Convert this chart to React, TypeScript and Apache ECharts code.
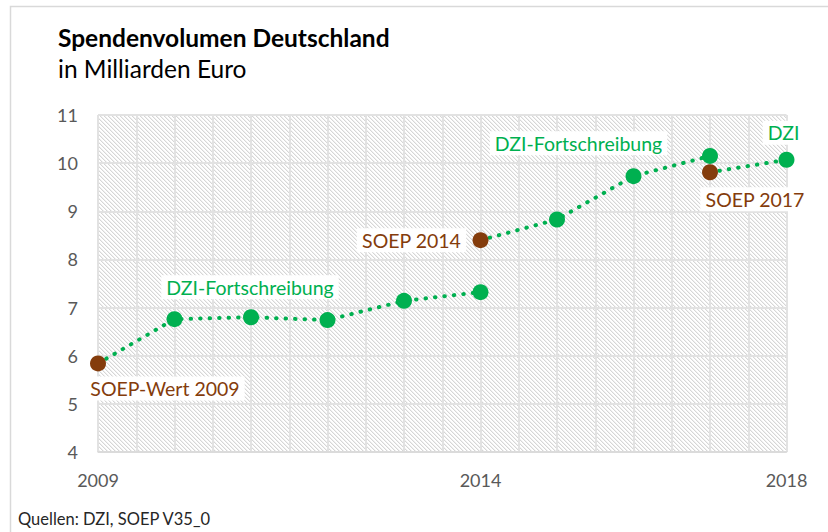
import React, { useEffect, useRef } from "react";
import * as echarts from "echarts";

// ---- data ----
const years1 = [2009, 2010, 2011, 2012, 2013, 2014];
const values1 = [5.84, 6.76, 6.8, 6.74, 7.14, 7.32];
const years2 = [2014, 2015, 2016, 2017];
const values2 = [8.4, 8.83, 9.73, 10.15];
const years3 = [2017, 2018];
const values3 = [9.81, 10.07];
const xTickLabels = [2009, 2014, 2018];
const yTicks = [4, 5, 6, 7, 8, 9, 10, 11];

const GREEN = "#00b050";
const BROWN = "#843c0c";
const FONT = "Lato, 'Open Sans', sans-serif";

function hatchCanvas(): HTMLCanvasElement {
  const c = document.createElement("canvas");
  c.width = 4;
  c.height = 4;
  const ctx = c.getContext("2d")!;
  ctx.fillStyle = "#ffffff";
  ctx.fillRect(0, 0, 4, 4);
  for (let y = 0; y < 4; y++) {
    for (let x = 0; x < 4; x++) {
      const d = (((x - y) % 4) + 4) % 4;
      if (d === 0) {
        ctx.fillStyle = "#d6d6d6";
        ctx.fillRect(x, y, 1, 1);
      } else if (d === 1) {
        ctx.fillStyle = "#f0f0f0";
        ctx.fillRect(x, y, 1, 1);
      }
    }
  }
  return c;
}

function labelFor(text: string, color: string, offset: number[]) {
  return {
    show: true,
    formatter: text,
    position: "inside",
    offset,
    color,
    fontFamily: FONT,
    fontSize: 19.5,
    backgroundColor: "#ffffff",
    padding: [2, 5],
  };
}

export default function App() {
  const ref = useRef<HTMLDivElement>(null);
  useEffect(() => {
    document.body.style.margin = "0";
    if (!ref.current) return;
    const chart = echarts.init(ref.current, null, { renderer: "svg" });

    const mk = (xs: number[], vs: number[]) =>
      xs.map((x, i) => ({ value: [x, vs[i]] }));

    const s1: any[] = mk(years1, values1);
    s1[0].itemStyle = { color: BROWN };
    s1[0].label = labelFor("SOEP-Wert 2009", BROWN, [67, 25]);
    s1[2].label = labelFor("DZI-Fortschreibung", GREEN, [-1, -30]);

    const s2: any[] = mk(years2, values2);
    s2[0].itemStyle = { color: BROWN };
    s2[0].label = labelFor("SOEP 2014", BROWN, [-69, 0]);
    s2[2].label = labelFor("DZI-Fortschreibung", GREEN, [-55, -33]);

    const s3: any[] = mk(years3, values3);
    s3[0].itemStyle = { color: BROWN };
    s3[0].label = labelFor("SOEP 2017", BROWN, [45, 27]);
    s3[1].label = labelFor("DZI", GREEN, [-3, -27]);

    const lineStyle = {
      color: GREEN,
      width: 4,
      type: [0.5, 9],
      cap: "round",
    };

    const series = [s1, s2, s3].map((d) => ({
      type: "line",
      data: d,
      symbol: "circle",
      symbolSize: 16,
      itemStyle: { color: GREEN },
      lineStyle,
      z: 3,
      label: { show: false },
    }));

    chart.setOption({
      animation: false,
      backgroundColor: "#ffffff",
      textStyle: { fontFamily: FONT },
      title: [
        {
          text: "Spendenvolumen Deutschland",
          left: 58,
          top: 25,
          padding: 0,
          textStyle: {
            fontFamily: FONT,
            fontWeight: "bold",
            fontSize: 24.5,
            color: "#000000",
          },
        },
        {
          text: "in Milliarden Euro",
          left: 58,
          top: 56,
          padding: 0,
          textStyle: {
            fontFamily: FONT,
            fontWeight: "normal",
            fontSize: 24.5,
            color: "#000000",
          },
        },
        {
          text: "Quellen: DZI, SOEP V35_0",
          left: 18,
          top: 510,
          padding: 0,
          textStyle: {
            fontFamily: FONT,
            fontWeight: "normal",
            fontSize: 16.5,
            color: "#262626",
          },
        },
      ],
      graphic: [
        {
          type: "polyline",
          shape: {
            points: [
              [10.5, 540],
              [10.5, 6.5],
              [830, 6.5],
            ],
          },
          style: { stroke: "#d9d9d9", lineWidth: 1.5, fill: null },
          silent: true,
        },
      ],
      grid: {
        left: 98,
        right: 41.5,
        top: 115,
        bottom: 80,
        show: true,
        borderWidth: 0,
        backgroundColor: {
          image: hatchCanvas(),
          repeat: "repeat",
          imageWidth: 4,
          imageHeight: 4,
        },
      },
      xAxis: {
        type: "value",
        min: 2009,
        max: 2018,
        interval: 0.5,
        axisLine: { show: true, lineStyle: { color: "#d9d9d9", width: 1.5 } },
        axisTick: { show: false },
        splitLine: { show: true, lineStyle: { color: "#e2e2e2", width: 2 } },
        axisLabel: {
          fontFamily: FONT,
          fontSize: 18,
          color: "#595959",
          margin: 19,
          showMinLabel: true,
          showMaxLabel: true,
          formatter: (v: number) =>
            xTickLabels.includes(v) ? String(v) : "",
        },
      },
      yAxis: {
        type: "value",
        min: yTicks[0],
        max: yTicks[yTicks.length - 1],
        interval: 1,
        axisLine: { show: false },
        axisTick: { show: false },
        splitLine: { show: true, lineStyle: { color: "#e2e2e2", width: 2 } },
        axisLabel: {
          fontFamily: FONT,
          fontSize: 18,
          color: "#595959",
          margin: 20,
        },
      },
      series,
    });
    return () => chart.dispose();
  }, []);
  return <div ref={ref} style={{ width: 828, height: 532 }} />;
}
